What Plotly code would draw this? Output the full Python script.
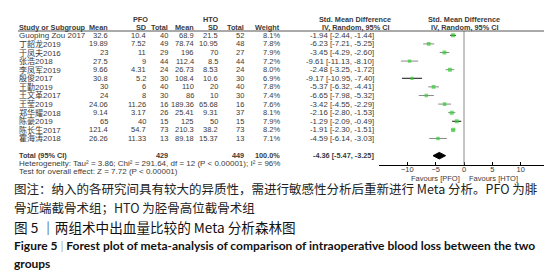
import plotly.graph_objects as go

studies = ["Guoping Zou 2017", "丁韶龙2019", "于凤夫2016", "张浩2018", "李凤军2019", "殷俊2017",
           "王勤2019", "王文革2017", "王莹2019", "郑华耀2018", "陈豪2019", "陈长生2017", "霍海涛2018"]
pfo_mean = ["32.6", "19.89", "23", "27.5", "9.66", "30.8", "30", "24", "24.06", "9.14", "65", "121.4", "26.26"]
pfo_sd = ["10.4", "7.52", "11", "9", "4.31", "5.2", "6", "8", "11.26", "3.17", "40", "54.7", "11.33"]
pfo_n = [40, 49, 29, 44, 24, 30, 40, 30, 16, 26, 15, 73, 13]
hto_mean = ["68.9", "78.74", "196", "112.4", "26.73", "108.4", "110", "86", "189.36", "25.41", "125", "210.3", "89.18"]
hto_sd = ["21.5", "10.95", "70", "8.5", "8.53", "10.6", "20", "10", "65.68", "9.31", "50", "38.2", "15.37"]
hto_n = [52, 48, 27, 44, 24, 30, 40, 30, 16, 37, 15, 73, 13]
weight = [8.1, 7.8, 7.9, 7.2, 8.0, 6.9, 7.8, 7.4, 7.6, 8.1, 7.9, 8.2, 7.1]
smd = [-1.94, -6.23, -3.45, -9.61, -2.48, -9.17, -5.37, -6.65, -3.42, -2.16, -1.29, -1.91, -4.59]
lo = [-2.44, -7.21, -4.29, -11.13, -3.25, -10.95, -6.32, -7.98, -4.55, -2.80, -2.09, -2.30, -6.14]
hi = [-1.44, -5.25, -2.60, -8.10, -1.72, -7.40, -4.41, -5.32, -2.29, -1.53, -0.49, -1.51, -3.03]
dark_ci = [True, False, False, False, False, True, False, False, False, False, True, False, False]
total_smd, total_lo, total_hi = -4.36, -5.47, -3.25
tick_vals = [-10, -5, 0, 5, 10]

W, H = 552, 272
FONT = "Liberation Sans, Arial, Noto Sans CJK SC"
CJK = "Noto Sans CJK SC"
TXT = "#3a3a3a"
NS = 8.0   # study names
RS = 7.5   # numbers
CS = 7.8   # CI column
HS = 8.0   # heterogeneity lines
BS = 7.3   # bold headers

fig = go.Figure()

rows = list(range(len(studies)))
total_row = len(studies) + 1

# CI lines
for dark in (False, True):
    xs, ys = [], []
    for i in rows:
        if dark_ci[i] == dark:
            xs += [lo[i], hi[i], None]
            ys += [i, i, None]
    fig.add_trace(go.Scatter(x=xs, y=ys, mode="lines",
                             line=dict(color="#111111" if dark else "#8a8a8a", width=1),
                             hoverinfo="skip", showlegend=False))

# study squares
fig.add_trace(go.Scatter(x=smd, y=rows, mode="markers",
                         marker=dict(symbol="square", color="#33cc33",
                                     size=[3 + (w - 6.5) * 0.6 for w in weight], line=dict(width=0)),
                         showlegend=False))

# pooled diamond
dh = 0.38
fig.add_trace(go.Scatter(x=[total_lo, total_smd, total_hi, total_smd, total_lo],
                         y=[total_row, total_row - dh, total_row, total_row + dh, total_row],
                         mode="lines", fill="toself", fillcolor="black",
                         line=dict(color="black", width=1), showlegend=False))

# zero line
fig.add_shape(type="line", xref="x", yref="y", x0=0, x1=0, y0=-0.5, y1=15.05,
              line=dict(color="#8a8a8a", width=1))


def py(p):
    return 1 - p / H


def px(p):
    return p / W


# header line
fig.add_shape(type="line", xref="paper", yref="paper", x0=px(10), x1=px(551), y0=py(23), y1=py(23),
              line=dict(color="#555555", width=1))


def txt(x, y, s, anchor="left", size=RS, bold=False, family=FONT, color=TXT, yref="paper"):
    fig.add_annotation(x=px(x), y=(py(y) if yref == "paper" else y), xref="paper", yref=yref,
                       text=s, showarrow=False, xanchor=anchor, yanchor="middle", borderpad=0,
                       font=dict(size=size, family=family, color=color,
                                 weight="bold" if bold else "normal"))


# header
txt(132, 12, "PFO", "center", BS, True)
txt(203, 12, "HTO", "center", BS, True)
txt(347, 12, "Std. Mean Difference", "center", BS, True)
txt(456, 12, "Std. Mean Difference", "center", BS, True)
txt(10, 19.5, "Study or Subgroup", "left", BS, True)
for x, s in [(101, "Mean"), (138.5, "SD"), (160.5, "Total"), (186.5, "Mean"), (211, "SD"),
             (236.5, "Total"), (273, "Weight")]:
    txt(x, 19.5, s, "right", BS, True)
txt(347, 19.5, "IV, Random, 95% CI", "center", BS, True)
txt(456, 19.5, "IV, Random, 95% CI", "center", BS, True)

# rows
for i in rows:
    txt(10, i, studies[i], "left", NS, yref="y")
    txt(101, i, pfo_mean[i], "right", RS, yref="y")
    txt(138.5, i, pfo_sd[i], "right", RS, yref="y")
    txt(160.5, i, str(pfo_n[i]), "right", RS, yref="y")
    txt(186.5, i, hto_mean[i], "right", RS, yref="y")
    txt(211, i, hto_sd[i], "right", RS, yref="y")
    txt(236.5, i, str(hto_n[i]), "right", RS, yref="y")
    txt(273, i, f"{weight[i]:.1f}%", "right", RS, yref="y")
    txt(367, i, f"{smd[i]:.2f} [{lo[i]:.2f}, {hi[i]:.2f}]", "right", CS, yref="y")

txt(10, total_row, "Total (95% CI)", "left", BS, True, yref="y")
txt(160.5, total_row, str(sum(pfo_n)), "right", BS, True, yref="y")
txt(236.5, total_row, str(sum(hto_n)), "right", BS, True, yref="y")
txt(273, total_row, f"{sum(weight):.1f}%", "right", BS, True, yref="y")
txt(367, total_row, f"{total_smd:.2f} [{total_lo:.2f}, {total_hi:.2f}]", "right", BS, True, yref="y")
txt(10, 155.5, "Heterogeneity: Tau² = 3.86; Chi² = 291.64, df = 12 (P < 0.00001); I² = 96%", "left", HS)
txt(10, 163.5, "Test for overall effect: Z = 7.72 (P < 0.00001)", "left", HS)

txt(453, 170, "Favours [PFO]", "right", RS)
txt(460, 170, "Favours [HTO]", "left", RS)

# captions
txt(5, 180, "图注：纳入的各研究间具有较大的异质性，需进行敏感性分析后重新进行 Meta 分析。PFO 为腓", "left", 12.5, family=CJK, color="#222222")
txt(5, 199, "骨近端截骨术组；HTO 为胫骨高位截骨术组", "left", 12.5, family=CJK, color="#222222")
txt(5, 219, "图 5 ｜两组术中出血量比较的 Meta 分析森林图", "left", 13.6, family=CJK, color="#111111")
txt(5, 237, "Figure 5 <span style='color:#aaaaaa;font-weight:normal'>|</span> Forest plot of meta-analysis of comparison of intraoperative blood loss between the two",
    "left", 12.0, True, family="Lato", color="#111111")
txt(5, 255, "groups", "left", 12.0, True, family="Lato", color="#111111")

fig.update_layout(
    width=W, height=H, margin=dict(l=0, r=0, t=0, b=0),
    paper_bgcolor="white", plot_bgcolor="white", showlegend=False,
    xaxis=dict(domain=[px(371), px(541)], range=[-15, 15], tickvals=tick_vals,
               showline=True, linecolor="black", linewidth=1, ticks="inside", ticklen=3,
               tickcolor="black", showgrid=False, zeroline=False, ticklabelstandoff=-3,
               tickfont=dict(size=RS, family=FONT, color=TXT), fixedrange=True),
    yaxis=dict(domain=[py(156.7), py(23)], range=[15.05, -0.5], visible=False,
               showgrid=False, zeroline=False, fixedrange=True),
)

fig.write_html("out.html")
